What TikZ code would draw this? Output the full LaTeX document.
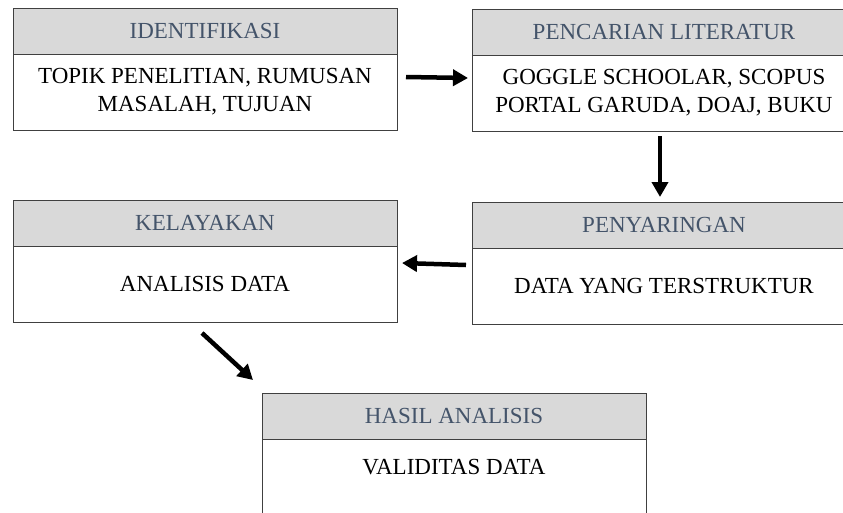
\documentclass[tikz,border=0pt]{standalone}
\usepackage{fontspec}
\setmainfont{Liberation Serif}
\usetikzlibrary{positioning,arrows.meta}
\definecolor{headgray}{HTML}{D9D9D9}
\definecolor{headtext}{HTML}{44546A}
\definecolor{boxline}{HTML}{404040}
\tikzset{
  head/.style={draw=boxline, line width=0.9pt, fill=headgray, text=headtext,
    minimum width=384pt, minimum height=46pt, inner sep=0pt, outer sep=0pt,
    anchor=north west, font=\fontsize{23}{27}\selectfont},
  body/.style={draw=boxline, line width=0.9pt, fill=white,
    minimum width=384pt, minimum height=76pt, inner sep=0pt, outer sep=0pt,
    align=center, font=\fontsize{23}{28}\selectfont},
  flow/.style={line width=4.5pt, -{Triangle[length=15pt,width=16pt]}}
}
\begin{document}
\begin{tikzpicture}[x=1pt, y=-1pt]
\useasboundingbox (0,0) rectangle (843,512);
% top row
\node[head] (identH) at (13,8) {IDENTIFIKASI};
\node[body, below=0pt of identH] (identB) {TOPIK PENELITIAN, RUMUSAN\\MASALAH, TUJUAN};
\node[head] (litH) at (472,9) {PENCARIAN LITERATUR};
\node[body, below=0pt of litH] (litB) {GOGGLE SCHOOLAR, SCOPUS\\PORTAL GARUDA, DOAJ, BUKU};
% middle row
\node[head] (kelayH) at (13,200) {KELAYAKAN};
\node[body, below=0pt of kelayH] (kelayB) {ANALISIS DATA};
\node[head] (saringH) at (472,202) {PENYARINGAN};
\node[body, below=0pt of saringH] (saringB) {DATA YANG TERSTRUKTUR};
% bottom
\node[head] (hasilH) at (262,393) {HASIL ANALISIS};
\node[body, below=0pt of hasilH, text depth=20pt] (hasilB) {VALIDITAS DATA};
% arrows
\draw[flow] ([shift={(9,-15)}]identB.east) -- ([shift={(-4,-15)}]litB.west);
\draw[flow] ([shift={(-4,5)}]litB.south) -- ([shift={(-4,-5)}]saringH.north);
\draw[flow] ([shift={(-6,-21)}]saringB.west) -- ([shift={(5,-21)}]kelayB.east);
\draw[flow] ([shift={(-3,11)}]kelayB.south) -- ([shift={(-9,-13)}]hasilH.north west);
\end{tikzpicture}
\end{document}
